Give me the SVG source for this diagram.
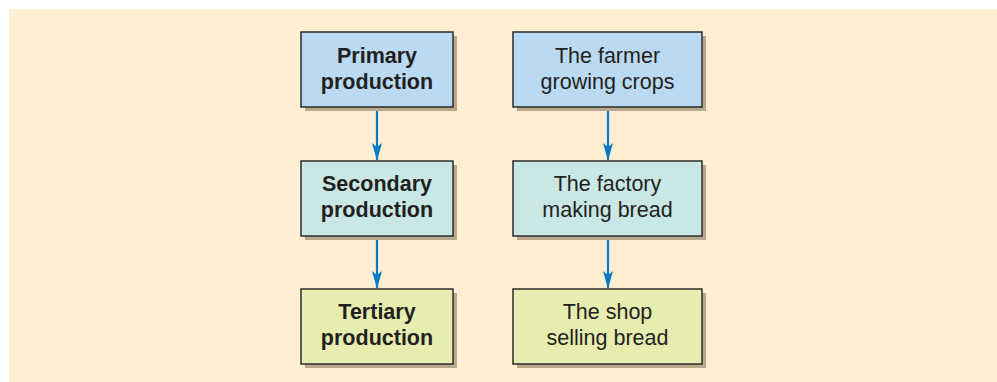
<svg xmlns="http://www.w3.org/2000/svg" width="997" height="382" viewBox="0 0 997 382">
<defs>
<style>
.bg{fill:#FEEFD4}
.box{stroke:#2b2b2b;stroke-width:1.5}
.sh{fill:#b9a98c}
.p{fill:#BADAF3}
.s{fill:#C8E7E5}
.t{fill:#E6EDAE}
.lb{font-family:"Liberation Sans",Arial,sans-serif;font-size:21.5px;fill:#231f20;text-anchor:middle}
.b{font-weight:bold}
.c{stroke:#0B7BC3;stroke-width:2.2;fill:none}
</style>
<marker id="ah" markerWidth="18" markerHeight="10" refX="17" refY="5" orient="auto" markerUnits="userSpaceOnUse" viewBox="0 0 18 10">
<path d="M0,0 L4,5 L0,10 L18,5 Z" fill="#0B7BC3"/>
</marker>
</defs>
<rect class="bg" x="9" y="9" width="988" height="373"/>
<g id="connectors">
<line class="c" x1="377" y1="107" x2="377" y2="160" marker-end="url(#ah)"/>
<line class="c" x1="377" y1="236" x2="377" y2="288" marker-end="url(#ah)"/>
<line class="c" x1="608" y1="107" x2="608" y2="160" marker-end="url(#ah)"/>
<line class="c" x1="608" y1="236" x2="608" y2="288" marker-end="url(#ah)"/>
</g>
<g id="primary">
<rect class="sh" x="305" y="36" width="152" height="75"/>
<rect class="box p" x="301" y="32" width="152" height="75"/>
<text class="lb b" x="377" y="63">Primary</text>
<text class="lb b" x="377" y="89">production</text>
</g>
<g id="secondary">
<rect class="sh" x="305" y="165" width="152" height="75"/>
<rect class="box s" x="301" y="161" width="152" height="75"/>
<text class="lb b" x="377" y="191">Secondary</text>
<text class="lb b" x="377" y="217">production</text>
</g>
<g id="tertiary">
<rect class="sh" x="305" y="293" width="152" height="75"/>
<rect class="box t" x="301" y="289" width="152" height="75"/>
<text class="lb b" x="377" y="319">Tertiary</text>
<text class="lb b" x="377" y="345">production</text>
</g>
<g id="farmer">
<rect class="sh" x="517" y="36" width="189" height="75"/>
<rect class="box p" x="513" y="32" width="189" height="75"/>
<text class="lb" x="607.5" y="63">The farmer</text>
<text class="lb" x="607.5" y="89">growing crops</text>
</g>
<g id="factory">
<rect class="sh" x="517" y="165" width="189" height="75"/>
<rect class="box s" x="513" y="161" width="189" height="75"/>
<text class="lb" x="607.5" y="191">The factory</text>
<text class="lb" x="607.5" y="217">making bread</text>
</g>
<g id="shop">
<rect class="sh" x="517" y="293" width="189" height="75"/>
<rect class="box t" x="513" y="289" width="189" height="75"/>
<text class="lb" x="607.5" y="319">The shop</text>
<text class="lb" x="607.5" y="345">selling bread</text>
</g>
</svg>
